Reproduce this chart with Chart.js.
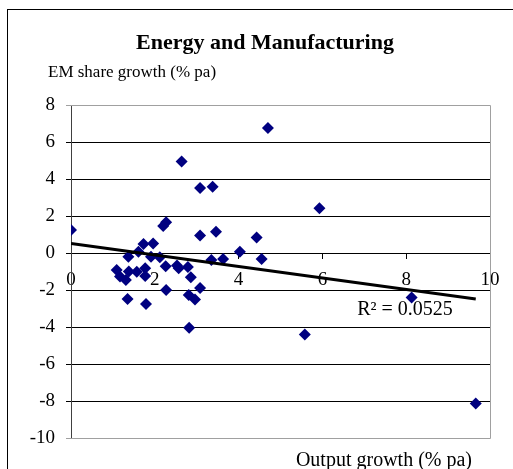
<!DOCTYPE html>
<html lang="en">
<head>
<meta charset="UTF-8">
<title>Energy and Manufacturing</title>
<style>
  html, body { margin: 0; padding: 0; background: #fff; overflow: hidden; }
  #frame { position: absolute; left: 7px; top: 9px; width: 600px; height: 600px; border: 1px solid #000; }
  #em-chart { position: absolute; left: 0; top: 0; }
</style>
</head>
<body>
<div id="frame"></div>
<canvas id="em-chart" width="513" height="469"></canvas>
<script src="https://cdn.jsdelivr.net/npm/chart.js"></script>
<script>
// output growth (% pa) per industry, x
const outputGrowth = [
  0.00, 4.70, 2.64, 3.08, 3.38, 5.93, 2.27, 2.20, 3.08, 3.46,
  4.43, 4.03, 3.35, 3.63, 4.55, 1.73, 1.96, 1.61, 1.37, 1.91,
  2.12, 2.26, 2.53, 2.57, 2.79, 2.86, 2.27, 3.08, 2.81, 2.96,
  2.82, 1.09, 1.17, 1.31, 1.38, 1.57, 1.77, 1.77, 1.35, 1.79,
  5.58, 8.13, 9.66
];
// EM share growth (% pa), y
const shareGrowth = [
  1.24, 6.76, 4.94, 3.51, 3.58, 2.42, 1.66, 1.46, 0.95, 1.15,
  0.84, 0.07, -0.38, -0.32, -0.32, 0.49, 0.52, 0.07, -0.20, -0.20,
  -0.23, -0.72, -0.68, -0.83, -0.76, -1.31, -2.00, -1.89, -2.27, -2.51,
  -4.04, -0.92, -1.27, -1.46, -1.00, -1.01, -0.83, -1.24, -2.49, -2.76,
  -4.40, -2.40, -8.13
];
const xTickRange = [0, 10, 2];
const yTickRange = [-10, 8, 2];
const chartTitle = 'Energy and Manufacturing';
const yTitle = 'EM share growth (% pa)';
const xTitle = 'Output growth (% pa)';
const rSquaredText = 'R\u00b2 = 0.0525';

const points = outputGrowth.map((x, i) => ({ x: x, y: shareGrowth[i] }));

// least squares trend line over the data range
function trend(xs, ys) {
  const n = xs.length;
  const mx = xs.reduce((a, b) => a + b, 0) / n;
  const my = ys.reduce((a, b) => a + b, 0) / n;
  let sxy = 0, sxx = 0;
  for (let i = 0; i < n; i++) {
    sxy += (xs[i] - mx) * (ys[i] - my);
    sxx += (xs[i] - mx) * (xs[i] - mx);
  }
  const slope = sxy / sxx;
  const lo = Math.min(...xs), hi = Math.max(...xs);
  return [
    { x: lo, y: my + slope * (lo - mx) },
    { x: hi, y: my + slope * (hi - mx) }
  ];
}
const trendPoints = trend(outputGrowth, shareGrowth);

const serif = 'Liberation Serif';

const textPlugin = {
  id: 'texts',
  beforeDatasetsDraw(chart) {
    const { ctx, chartArea: a } = chart;
    ctx.save();
    ctx.strokeStyle = '#a0a0a0';
    ctx.lineWidth = 1;
    ctx.beginPath();
    ctx.moveTo(a.left, a.top + 0.5);
    ctx.lineTo(a.right + 0.5, a.top + 0.5);
    ctx.lineTo(a.right + 0.5, a.bottom + 0.5);
    ctx.lineTo(a.left, a.bottom + 0.5);
    ctx.stroke();
    ctx.restore();
  },
  afterDraw(chart) {
    const { ctx } = chart;
    const xs = chart.scales.x, ys = chart.scales.y;
    ctx.save();
    ctx.fillStyle = '#000';
    ctx.textBaseline = 'middle';
    ctx.textAlign = 'center';
    ctx.font = 'bold 22px "' + serif + '"';
    ctx.fillText(chartTitle, 265, 43);
    ctx.textAlign = 'left';
    ctx.font = '17px "' + serif + '"';
    ctx.fillText(yTitle, 48, 73);
    ctx.textAlign = 'right';
    ctx.font = '20px "' + serif + '"';
    ctx.fillText(xTitle, 472, 461);
    ctx.textAlign = 'left';
    ctx.font = '20px "' + serif + '"';
    ctx.fillText(rSquaredText, xs.getPixelForValue(6.83), ys.getPixelForValue(-3.0) + 1);
    ctx.restore();
  }
};

new Chart(document.getElementById('em-chart'), {
  type: 'scatter',
  data: {
    datasets: [
      {
        data: points,
        pointStyle: 'rectRot',
        pointRadius: 6,
        pointBackgroundColor: '#000080',
        pointBorderColor: '#000080',
        pointBorderWidth: 0,
        order: 2
      },
      {
        type: 'line',
        data: trendPoints,
        borderColor: '#000',
        borderWidth: 3,
        pointRadius: 0,
        fill: false,
        order: 1
      }
    ]
  },
  options: {
    responsive: false,
    animation: false,
    layout: { padding: { top: 105, right: 23, bottom: 31, left: 0 } },
    plugins: { legend: { display: false }, title: { display: false }, tooltip: { enabled: false } },
    scales: {
      x: {
        type: 'linear',
        position: { y: 0 },
        min: xTickRange[0], max: xTickRange[1],
        ticks: { stepSize: xTickRange[2], color: '#000', padding: 11, maxRotation: 0, font: { family: serif, size: 19 } },
        grid: { drawOnChartArea: false, tickLength: 5, color: '#000' },
        border: { color: '#000' }
      },
      y: {
        min: yTickRange[0], max: yTickRange[1],
        ticks: { stepSize: yTickRange[2], color: '#000', padding: 11, font: { family: serif, size: 19 } },
        grid: {
          tickLength: 5,
          color: c => (c.tick && (c.tick.value === 8 || c.tick.value === -10)) ? '#a0a0a0' : '#000'
        },
        border: { color: '#404040' },
        afterFit: s => { s.width = 71; }
      }
    }
  },
  plugins: [textPlugin]
});
</script>
</body>
</html>
